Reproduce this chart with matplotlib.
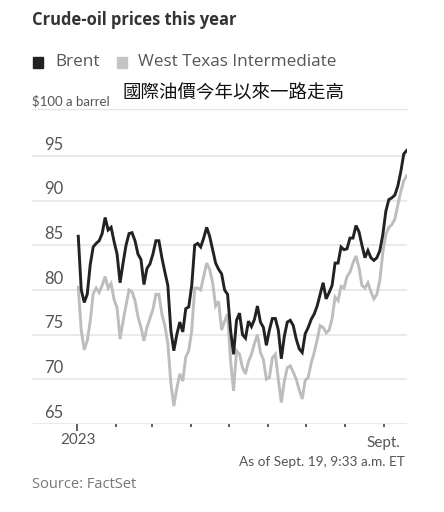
import numpy as np
import pandas as pd
import matplotlib
matplotlib.use("Agg")
from matplotlib import pyplot as plt
import matplotlib.dates as mdates
import matplotlib.transforms as mtransforms

# Brent and WTI, $ a barrel (evenly spaced samples Jan 2 - Sep 19)
brent = [86.0, 80.0, 78.6, 79.5, 82.8, 84.8, 85.2, 85.5, 86.3, 88.1,
         86.7, 87.0, 85.4, 84.0, 80.8, 83.0, 85.0, 86.3, 86.4, 85.5,
         84.0, 83.4, 80.6, 82.4, 82.9, 84.0, 85.5, 85.5, 83.6, 82.0,
         80.5, 75.5, 73.2, 75.0, 76.4, 75.3, 77.9, 78.1, 80.5, 85.0,
         85.2, 84.8, 85.8, 87.0, 86.0, 84.5, 83.0, 82.3, 81.8, 80.0,
         79.5, 75.5, 72.8, 76.6, 77.4, 75.0, 74.6, 76.5, 75.9, 76.7,
         78.2, 76.4, 75.8, 73.8, 75.5, 76.8, 76.8, 75.5, 72.3, 74.8,
         76.4, 76.6, 76.0, 74.5, 73.4, 73.0, 75.1, 75.8, 76.7, 77.3,
         78.2, 79.5, 80.8, 79.0, 79.7, 80.5, 83.0, 83.0, 84.8, 84.5,
         84.6, 85.8, 85.8, 87.2, 86.5, 85.0, 83.6, 84.4, 83.6, 83.3,
         83.6, 84.4, 86.2, 88.8, 90.1, 90.3, 90.6, 91.6, 93.2, 95.2, 95.6]
wti = [80.3, 75.5, 73.3, 74.3, 76.5, 79.6, 80.2, 79.7, 80.5, 81.5,
       80.2, 80.7, 78.9, 78.0, 74.5, 76.5, 78.3, 80.0, 79.8, 78.8,
       77.0, 75.8, 74.3, 75.8, 76.8, 77.8, 79.5, 79.5, 77.3, 76.0,
       74.0, 69.6, 67.0, 69.0, 70.6, 69.8, 72.5, 73.2, 75.5, 80.2,
       80.2, 80.0, 81.5, 83.0, 82.3, 80.8, 78.2, 78.7, 75.5, 76.5,
       77.3, 72.1, 68.7, 73.2, 72.8, 71.3, 70.6, 72.0, 72.8, 74.0,
       75.0, 73.0, 72.2, 70.0, 70.2, 72.4, 72.8, 70.0, 67.4, 69.8,
       71.3, 71.5, 70.8, 70.0, 68.8, 67.8, 69.9, 70.2, 71.8, 73.0,
       74.4, 76.0, 75.8, 75.2, 75.5, 76.8, 79.2, 78.8, 80.4, 80.2,
       81.5, 82.0, 83.0, 83.8, 82.5, 80.5, 80.2, 80.8, 79.8, 79.0,
       79.5, 81.1, 84.2, 86.2, 87.0, 87.3, 87.9, 89.5, 91.0, 92.2, 92.8]
dates = pd.date_range("2023-01-02", "2023-09-19", periods=len(brent))
yticks = [65, 70, 75, 80, 85, 90, 95]

W, H = 444, 512
fig = plt.figure(figsize=(W / 100, H / 100), dpi=100)
fig.patch.set_facecolor("white")
ax = fig.add_axes([32 / W, (H - 424) / H, (407 - 32) / W, (424 - 109) / H])

ax.plot(dates, wti, color="#bdbdbd", lw=2.1, solid_joinstyle="miter")
ax.plot(dates, brent, color="#222222", lw=2.1, solid_joinstyle="miter")

# x range: Jan 1 sits 45 px in from the left edge
jan1 = mdates.date2num(pd.Timestamp("2023-01-01"))
ppd = (384 - 77) / 243.0
ax.set_xlim(jan1 - 45 / ppd, jan1 + (407 - 77) / ppd)
ax.set_ylim(65, 65 + (424 - 109) / 8.94)

for s in ["left", "right", "bottom"]:
    ax.spines[s].set_visible(False)
ax.spines["top"].set_color("#e6e6e6")
ax.spines["top"].set_linewidth(1)

ax.set_yticks(yticks)
ax.yaxis.set_ticks_position("none")
ax.set_yticklabels([])
ax.grid(axis="y", color="#e6e6e6", lw=1.2)
ax.set_axisbelow(True)

trans = mtransforms.blended_transform_factory(ax.transAxes, ax.transData)
for v in yticks:
    ax.text((63 - 32) / (407 - 32), v + 0.35, str(v), transform=trans,
            ha="right", va="bottom", fontsize=12, color="#555555", family="Lato")

months = pd.date_range("2023-01-01", "2023-09-01", freq="MS")
ax.set_xticks([months[0]])
ax.set_xticks(list(months[1:]), minor=True)
ax.set_xticklabels([])
ax.tick_params(axis="x", which="major", length=5, width=1.2, color="#444444")
ax.tick_params(axis="x", which="minor", length=2.5, width=1.2, color="#444444")

def ftxt(x, y, s, **kw):
    fig.text(x / W, 1 - y / H, s, **kw)

ftxt(32, 20, "Crude-oil prices this year", fontsize=11.9, fontweight="bold",
     color="#333333", family="Open Sans", va="center")

fig.patches.append(plt.Rectangle((33 / W, 1 - 68 / H), 10 / W, 11 / H,
                                 transform=fig.transFigure, color="#222222"))
ftxt(55, 62, "Brent", fontsize=12.3, color="#555555", family="Open Sans", va="center")
fig.patches.append(plt.Rectangle((117 / W, 1 - 68 / H), 10 / W, 11 / H,
                                 transform=fig.transFigure, color="#c4c4c4"))
ftxt(138, 62, "West Texas Intermediate", fontsize=12.3, color="#555555",
     family="Open Sans", va="center")

ftxt(32, 101, "$100 a barrel", fontsize=9.5, color="#555555", family="Lato",
     va="center")
ftxt(122, 93, "國際油價今年以來一路走高", fontsize=13.3, color="#111111",
     family=["Noto Sans CJK TC", "DejaVu Sans"], va="center")

ftxt(78, 440, "2023", fontsize=11, color="#555555", family="Lato",
     ha="center", va="center")
ftxt(400, 443, "Sept.", fontsize=11, color="#555555", family="Lato",
     ha="right", va="center")
ftxt(405, 462, "As of Sept. 19, 9:33 a.m. ET", fontsize=9.8, color="#555555",
     family="Lato", ha="right", va="center")
ftxt(32, 485, "Source: FactSet", fontsize=10.5, color="#777777", family="Open Sans",
     va="center")

fig.savefig("out.png", dpi=100, facecolor="white")
